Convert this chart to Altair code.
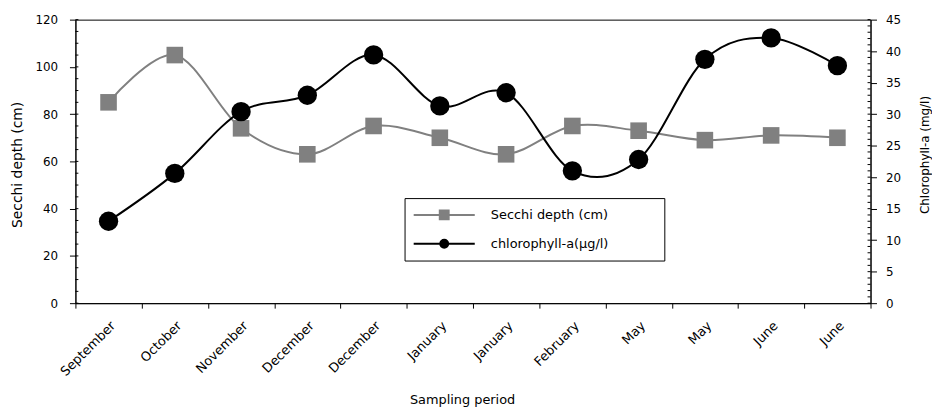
import json
import altair as alt
import pandas as pd

# ---- data ----
months = ["September", "October", "November", "December", "December", "January",
          "January", "February", "May", "May", "June", "June"]
secchi = [85, 105, 74, 63, 75, 70, 63, 75, 73, 69, 71, 70]
chl = [13.0, 20.6, 30.4, 33.0, 39.4, 31.3, 33.4, 21.0, 22.8, 38.7, 42.1, 37.7]
series_names = ["Secchi depth (cm)", "chlorophyll-a(\u00b5g/l)"]

left_major = [0, 20, 40, 60, 80, 100, 120]
right_major = [0, 5, 10, 15, 20, 25, 30, 35, 40, 45]
left_minor = list(range(0, 121, 5))
right_minor = list(range(0, 46, 1))

FONT = "DejaVu Sans"
GRAY = "#808080"

df = pd.DataFrame({"idx": list(range(len(months))), "month": months,
                   "secchi": secchi, "chl": chl})
df_lminor = pd.DataFrame({"secchi": left_minor})
df_rminor = pd.DataFrame({"chl": right_minor})
df_leg = pd.DataFrame({"series": series_names})

x_enc = alt.X(
    "idx:O",
    scale=alt.Scale(type="band", paddingInner=0, paddingOuter=0),
    axis=alt.Axis(
        title="Sampling period",
        labelExpr=json.dumps(months) + "[datum.value]",
        labelAngle=315, labelAlign="right", labelBaseline="top",
        labelFontSize=13, labelPadding=11, labelOverlap=False,
        tickBand="extent", tickSize=5,
        titleX=390, titleY=104, titleAlign="center", titleBaseline="bottom",
        titleFontSize=13,
    ),
)

left_scale = alt.Scale(domain=[0, 120], nice=False)
right_scale = alt.Scale(domain=[0, 45], nice=False)

left_axis = alt.Axis(
    orient="left", title="Secchi depth (cm)", values=left_major,
    tickSize=6, labelPadding=12, labelFontSize=12, titleFontSize=14,
    titleAngle=270, titleX=-58, titleY=146, titleAlign="center", titleBaseline="middle",
)
right_axis = alt.Axis(
    orient="right", title="Chlorophyll-a (mg/l)", values=right_major,
    tickSize=6, labelPadding=9, labelFontSize=12, titleFontSize=12,
    titleAngle=270, titleX=54, titleY=136, titleAlign="center", titleBaseline="middle",
)

y_left = alt.Y("secchi:Q", scale=left_scale, axis=left_axis)
y_right = alt.Y("chl:Q", scale=right_scale, axis=right_axis)

# ---- left (Secchi) layer ----
secchi_line = alt.Chart(df).mark_line(
    interpolate="cardinal", tension=0, color=GRAY, strokeWidth=2
).encode(x=x_enc, y=y_left)

secchi_pts = alt.Chart(df).mark_point(
    shape="square", filled=True, size=280, color=GRAY, opacity=1
).encode(x=x_enc, y=y_left)

left_minor_ticks = alt.Chart(df_lminor).mark_rule(color="black", strokeWidth=1).encode(
    y=y_left, x=alt.value(0), x2=alt.value(3),
)

left_layer = alt.layer(secchi_line, secchi_pts, left_minor_ticks)

# ---- right (chlorophyll) layer ----
chl_line = alt.Chart(df).mark_line(
    interpolate="cardinal", tension=0, color="black", strokeWidth=2
).encode(x=x_enc, y=y_right)

chl_pts = alt.Chart(df).mark_point(
    shape="circle", filled=True, size=380, color="black", opacity=1
).encode(x=x_enc, y=y_right)

right_minor_ticks = alt.Chart(df_rminor).mark_rule(color="black", strokeWidth=1).encode(
    y=y_right, x=alt.value(799), x2=alt.value(802),
)

# legend symbols: line + marker; trailing move-to widens the legend box
sq_path = "M-4.4,0H4.4M-0.64,-0.64H0.64V0.64H-0.64ZM29.8,0"
ci_path = "M-4.4,0H4.4M-0.57,0A0.57,0.57,0,1,1,0.57,0A0.57,0.57,0,1,1,-0.57,0ZM29.8,0"

leg = alt.Legend(
    title=None, orient="none", legendX=332, legendY=180, direction="vertical",
    strokeColor="black", fillColor="white", padding=9,
    symbolSize=196, symbolStrokeWidth=2, symbolOffset=23, symbolOpacity=1,
    labelOffset=39, rowPadding=12, labelFont=FONT, labelFontSize=13,
    labelColor="black", labelLimit=400,
)
color_scale = alt.Scale(domain=series_names, range=[GRAY, "black"])
legend_layer = alt.Chart(df_leg).mark_point(filled=True, opacity=0).encode(
    fill=alt.Fill("series:N", scale=color_scale, legend=leg),
    stroke=alt.Stroke("series:N", scale=color_scale, legend=leg),
    shape=alt.Shape("series:N", scale=alt.Scale(domain=series_names, range=[sq_path, ci_path]),
                    legend=leg),
)

right_layer = alt.layer(chl_line, chl_pts, right_minor_ticks, legend_layer)

chart = (
    alt.layer(left_layer, right_layer)
    .resolve_scale(y="independent")
    .properties(
        width=802, height=286,
        padding={"left": 68, "top": 10, "right": 62, "bottom": 104},
        autosize=alt.AutoSizeParams(type="none"),
    )
    .configure_axis(
        labelFont=FONT, titleFont=FONT, labelFontSize=12, titleFontSize=13,
        titleFontWeight="normal", labelColor="black", titleColor="black",
        domainColor="black", tickColor="black", grid=False,
    )
    .configure_view(stroke="black", strokeWidth=1)
)

chart.save("out.html", embed_options={"renderer": "svg", "actions": False})
